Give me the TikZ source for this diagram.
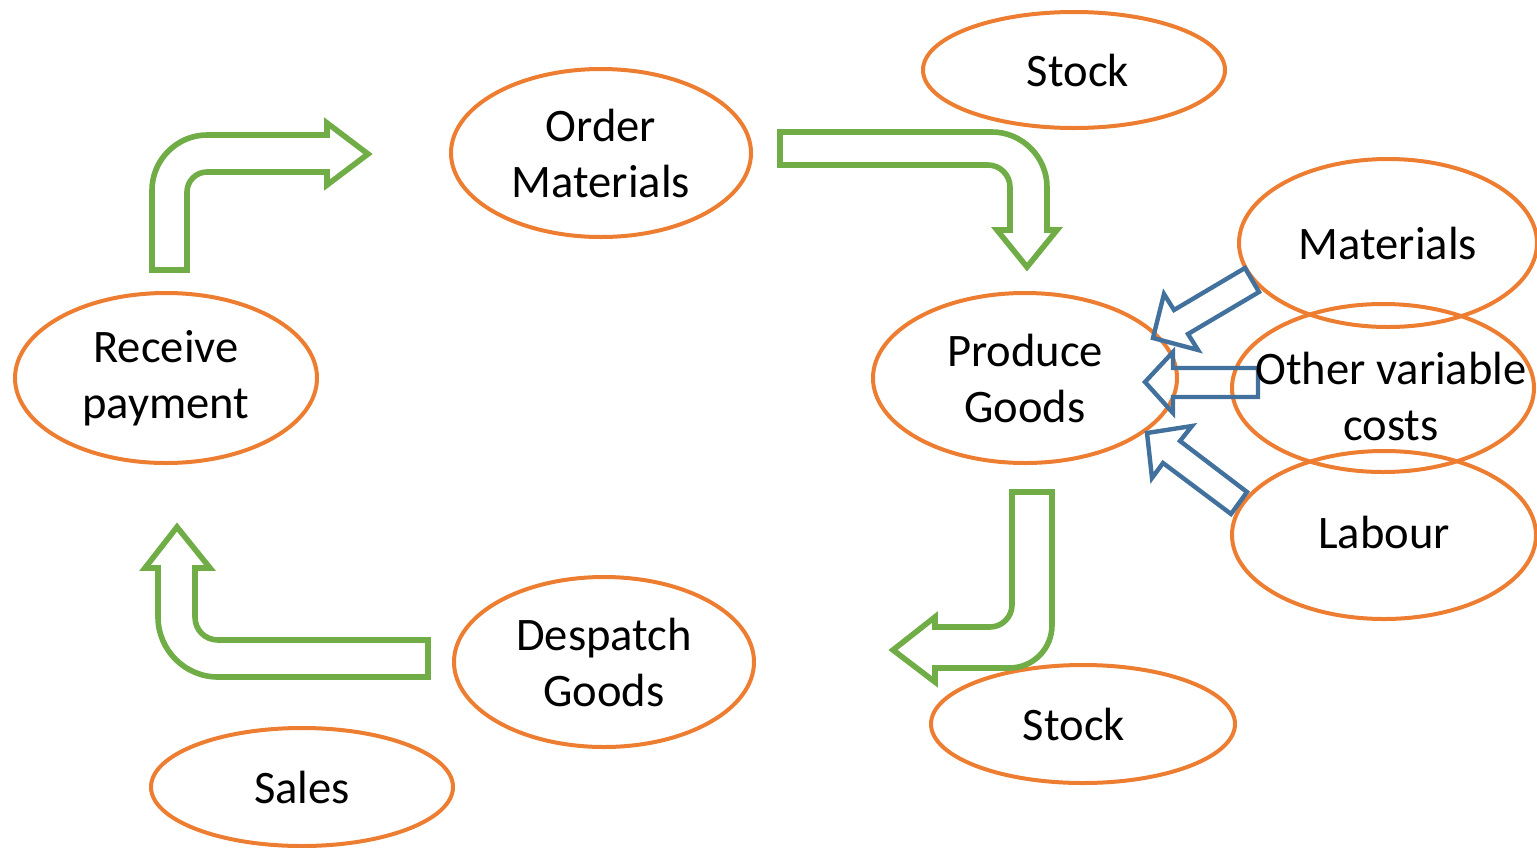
\documentclass[tikz,border=0pt]{standalone}
\usepackage{fontspec}
\setmainfont{Carlito}
\usetikzlibrary{shapes.geometric}
\definecolor{ored}{HTML}{ED7D31}
\definecolor{grn}{HTML}{70AD47}
\definecolor{blu}{HTML}{41719C}
\tikzset{
  oval/.style={ellipse, draw=ored, line width=2pt, inner sep=0pt, align=center,
    font=\fontsize{23.3}{28}\selectfont},
  txt/.style={inner sep=0pt, align=center, font=\fontsize{23.3}{28}\selectfont},
  garrow/.style={draw=grn, line width=2.8pt, line join=miter},
  barrow/.style={draw=blu, line width=2.2pt, line join=miter}
}
\begin{document}
\begin{tikzpicture}[x=0.5pt,y=-0.5pt]
\useasboundingbox (0,0) rectangle (1537,847);
% ellipses
\node[oval, minimum width=151pt, minimum height=58pt] (stock1) at (1074,70) {};
\node[oval, minimum width=150pt, minimum height=84pt] (order) at (601,153) {Order\\Materials};
\node[oval, minimum width=151pt, minimum height=85pt] (receive) at (166,378) {Receive\\payment};
\node[oval, minimum width=152pt, minimum height=85pt] (produce) at (1025,378) {Produce\\Goods};
\node[oval, minimum width=149pt, minimum height=84pt] (materials) at (1388,243) {Materials};
\node[oval, minimum width=151pt, minimum height=84pt] (other) at (1383,388) {};
\node[oval, minimum width=152pt, minimum height=84pt] (labour) at (1384,535) {};
\node[oval, minimum width=150pt, minimum height=85pt] (despatch) at (604,662) {Despatch\\Goods};
\node[oval, minimum width=152pt, minimum height=59pt] (stock2) at (1083,724) {};
\node[oval, minimum width=151pt, minimum height=59pt] (sales) at (302,787) {Sales};
\node[txt] (stock1text) at ([xshift=2pt]stock1) {Stock};
\node[txt] (stock2text) at ([xshift=-4.5pt]stock2) {Stock};
\node[txt] (labourtext) at ([yshift=1.5pt]labour) {Labour};
% green block arrows
\draw[garrow] (152,270) -- (152,190) .. controls (152,160) and (177,135) .. (207,135) -- (327,135) -- (327,123)
  -- (368,154) -- (327,185) -- (327,172) -- (207,172) .. controls (196,172) and (187,181) .. (187,192) -- (187,270) -- cycle;
\draw[garrow] (780,132) -- (992,132) .. controls (1022,132) and (1047,157) .. (1047,187) -- (1047,230) -- (1057,230)
  -- (1027,267) -- (997,230) -- (1010,230) -- (1010,187) .. controls (1010,175) and (1000,165) .. (988,165) -- (780,165) -- cycle;
\draw[garrow] (1012,492) -- (1052,492) -- (1052,625) .. controls (1052,649) and (1033,668) .. (1009,668) -- (935,668)
  -- (935,682) -- (893,650) -- (935,617) -- (935,627) -- (990,627) .. controls (1002,627) and (1012,617) .. (1012,605) -- cycle;
\draw[garrow] (428,640) -- (428,677) -- (218,677) .. controls (185,677) and (158,650) .. (158,617) -- (158,568)
  -- (145,568) -- (177,527) -- (210,568) -- (195,568) -- (195,617) .. controls (195,630) and (205,640) .. (218,640) -- cycle;
% blue block arrows
\draw[barrow] (1153,338) -- (1164,294) -- (1174,310) -- (1245,268) -- (1259,292) -- (1188,334) -- (1198,350) -- cycle;
\draw[barrow] (1258,368) -- (1173,368) -- (1173,352) -- (1145,382) -- (1173,413) -- (1173,397) -- (1258,397) -- cycle;
\draw[barrow] (1147,433) -- (1192,426) -- (1180,441) -- (1247,492) -- (1231,514) -- (1163,463) -- (1152,478) -- cycle;
% text of the crowded ellipse
\node[txt] (othertext) at ([xshift=4pt,yshift=-4pt]other) {Other variable\\costs};
\end{tikzpicture}
\end{document}
